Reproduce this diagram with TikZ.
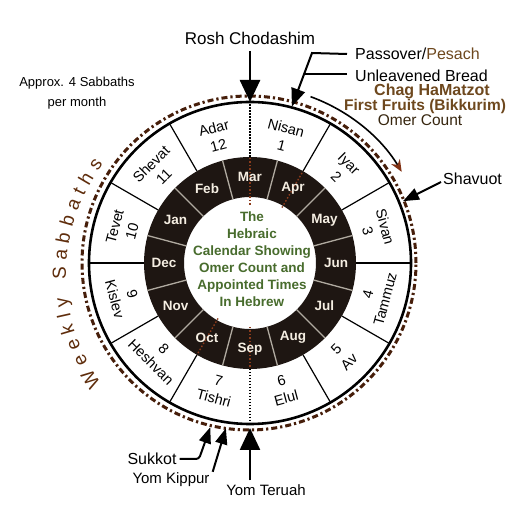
\documentclass[tikz,border=0pt]{standalone}
\usepackage{fontspec}
\setmainfont{Liberation Sans}
\usetikzlibrary{arrows.meta,decorations.text,calc}
\definecolor{txtbrown}{RGB}{110,72,30}
\definecolor{omercol}{RGB}{55,38,15}
\definecolor{ringblack}{RGB}{30,22,18}
\definecolor{cream}{RGB}{245,238,226}
\definecolor{sepgray}{RGB}{176,170,160}
\definecolor{dotbrown}{RGB}{140,60,28}
\definecolor{dashbrown}{RGB}{70,30,10}
\definecolor{wsbrown}{RGB}{95,45,12}
\definecolor{centergreen}{RGB}{72,108,45}
\definecolor{arcbrown}{RGB}{130,50,20}
\begin{document}
\begin{tikzpicture}[x=1pt,y=1pt,
  monthlab/.style={align=center,inner sep=0pt,font=\fontsize{14.5}{18}\selectfont},
  inmonth/.style={inner sep=0pt,text=cream,font=\bfseries\fontsize{13.5}{14}\selectfont},
  lab/.style={inner sep=0pt,font=\fontsize{16}{16}\selectfont},
  bigtip/.style={line width=2.6pt,-{Triangle[length=22pt,width=20pt]}},
  midtip/.style={line width=2pt,-{Triangle[length=18pt,width=14pt]}},
  smalltip/.style={line width=2pt,-{Triangle[length=16pt,width=12pt]}},
  dotline/.style={dotbrown,line width=1.4pt,dash pattern=on 1.5pt off 2pt},
  segline/.style={line width=1.2pt}]
\useasboundingbox (0,0) rectangle (512,512);
\fill[white] (0,0) rectangle (512,512);
\coordinate (C) at (250,249);

\begin{scope}[shift={(250,249)}]
  % outer disk
  \draw[line width=2.6pt,fill=white] (0,0) circle[radius=161];
  % segment boundaries in outer ring
  \foreach \a in {0,30,60,120,150,180,210,240,300,330}
    \draw[segline] (\a:106) -- (\a:160);
  \foreach \a in {90,270}
    \draw[line width=1.2pt,dash pattern=on 1.5pt off 1.5pt] (\a:106) -- (\a:160);
  % black ring
  \fill[ringblack,even odd rule] (0,0) circle[radius=106] (0,0) circle[radius=66];
  \foreach \a in {15,45,...,345}
    \draw[sepgray,line width=1.3pt] (\a:66) -- (\a:106);
  \draw[dotline] (90:58) -- (90:106);
  \draw[dotline] (60:64) -- (60:106);
  \draw[dotline] (270:64) -- (270:106);
  \draw[dotline] (240:64) -- (240:106);
  % outer month labels
  \foreach \a/\nm/\nu in {105/Adar/12,75/Nisan/1,45/Iyar/2,15/Sivan/3,135/Shevat/11,165/Tevet/10}
    \node[monthlab,rotate=\a-90] (m\nu) at (\a:131) {\nm\\\nu};
  \foreach \a/\nm/\nu in {-15/Tammuz/4,-45/Av/5,-75/Elul/6,-105/Tishri/7,-135/Heshvan/8,-165/Kislev/9}
    \node[monthlab,rotate=\a+90] (m\nu) at (\a:131) {\nu\\\nm};
  % inner month labels
  \foreach \a/\m in {90/Mar,60/Apr,30/May,0/Jun,-30/Jul,-60/Aug,-90/Sep,-120/Oct,-150/Nov,180/Dec,150/Jan,120/Feb}
    \node[inmonth] (i\m) at (\a:86) {\m};
  % dashed ring
  \draw[dashbrown,line width=3pt,dash pattern=on 6pt off 3pt on 2.2pt off 3pt] (-1,0) circle[radius=167];
  % curved arrow toward Shavuot
  \draw[line width=1.6pt,-{Stealth[length=12pt,width=10pt,arcbrown]}] (70:177) arc[start angle=70,end angle=31,radius=177];
  % tips
  \coordinate (troh) at (90:161);
  \coordinate (tpas) at (75:162);
  \coordinate (tshav) at (22:165);
  \coordinate (tteru) at (-90:165);
  \coordinate (tkip) at (-98.3:167);
  \coordinate (tsuk) at (-103.6:169);
\end{scope}

% center text
\node[align=center,text=centergreen,inner sep=0pt,font=\bfseries\fontsize{13.5}{17}\selectfont] (title) at (252,252.5)
  {The\\Hebraic\\Calendar Showing\\Omer Count and\\Appointed Times\\In Hebrew};

% Weekly Sabbaths
\path[decorate,decoration={text along path,text align=fit to path,
  text={|\fontsize{19}{19}\selectfont\color{wsbrown}|Weekly Sabbaths}}]
  (250,237) ++(216:184) arc[start angle=216,end angle=143,radius=184];

\node[align=center,inner sep=0pt,font=\fontsize{13}{20}\selectfont] (approx) at (77,419) {Approx. 4 Sabbaths\\per month};

% Rosh Chodashim
\node[lab,font=\fontsize{17}{17}\selectfont] (rosh) at (250,474) {Rosh Chodashim};
\draw[bigtip] (250,461) -- (troh);

% Passover
\node[lab,anchor=west] (pass) at (355,458) {Passover/\textcolor{txtbrown}{Pesach}};
\node[lab,anchor=west] (unl) at (355,436) {Unleavened Bread};
\coordinate (pcorner) at (312,459);
\coordinate (ujoin) at (304,438);
\draw[midtip] ([xshift=-8pt]pass.west) -- (pcorner) -- (tpas);
\draw[line width=2pt] ([xshift=-8pt]unl.west |- ujoin) -- (ujoin);
\node[lab,text=txtbrown,font=\bfseries\fontsize{16}{16}\selectfont] (chag) at (432,421) {Chag HaMatzot};
\node[lab,text=txtbrown,font=\bfseries\fontsize{15.5}{16}\selectfont] (first) at (425,406) {First Fruits (Bikkurim)};
\node[lab,text=omercol,font=\fontsize{15.5}{16}\selectfont] (omer) at (420,392) {Omer Count};

% Shavuot
\node[lab,anchor=west] (shav) at (443,333) {Shavuot};
\draw[smalltip] ([xshift=-2pt,yshift=-3pt]shav.west) -- (tshav);

% bottom labels
\node[lab] (suk) at (152,53) {Sukkot};
\node[lab,font=\fontsize{15}{15}\selectfont] (kip) at (171,32) {Yom Kippur};
\node[lab,font=\fontsize{15}{15}\selectfont] (teru) at (266,22) {Yom Teruah};
\coordinate (sbend) at (199,53);
\draw[smalltip,rounded corners=3pt] ([xshift=3pt]suk.east) -- (sbend) -- (tsuk);
\draw[smalltip] ([xshift=3pt,yshift=1pt]kip.north east) -- (tkip);
\draw[line width=2.4pt,-{Triangle[length=22pt,width=20pt]}] ([yshift=4pt]teru.north -| tteru) -- (tteru);
\end{tikzpicture}
\end{document}
